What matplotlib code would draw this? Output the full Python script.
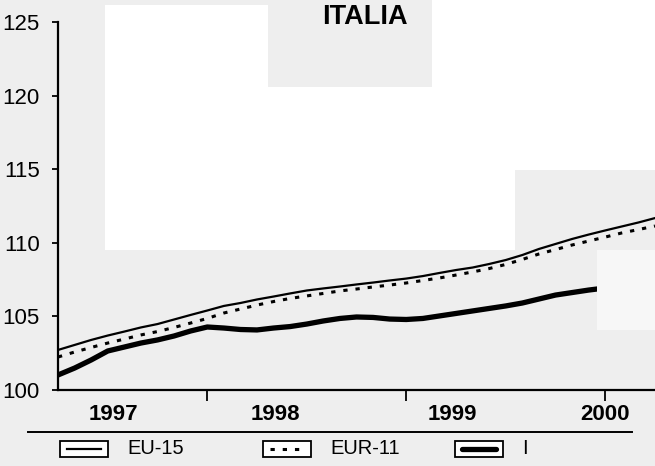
""" Italia price index vs EU-15 and EUR-11, 1997-2000 """
import matplotlib.pyplot as plt
from matplotlib.patches import Rectangle
from matplotlib.lines import Line2D

plt.rcParams['font.family'] = ['Liberation Sans', 'DejaVu Sans']

W, H = 655, 466

# monthly values, starting April 1997
start_year, start_month = 1997, 4
eu15 = [102.72, 103.06, 103.40, 103.70, 103.97, 104.25, 104.48, 104.79, 105.10,
        105.40, 105.71, 105.91, 106.15, 106.35, 106.56, 106.76, 106.90, 107.03,
        107.17, 107.30, 107.44, 107.57, 107.74, 107.95, 108.15, 108.32, 108.56,
        108.83, 109.17, 109.58, 109.92, 110.26, 110.56, 110.84, 111.11, 111.38,
        111.68]
eur11 = [102.24, 102.58, 102.89, 103.19, 103.46, 103.74, 103.97, 104.25, 104.55,
         104.86, 105.23, 105.50, 105.77, 106.01, 106.22, 106.39, 106.56, 106.73,
         106.86, 107.00, 107.13, 107.27, 107.44, 107.61, 107.81, 108.02, 108.25,
         108.53, 108.87, 109.24, 109.54, 109.85, 110.12, 110.39, 110.67, 110.90,
         111.14]
italia = [101.02, 101.49, 102.04, 102.65, 102.92, 103.19, 103.40, 103.67, 104.01,
          104.28, 104.21, 104.11, 104.08, 104.21, 104.31, 104.48, 104.69, 104.86,
          104.96, 104.93, 104.82, 104.79, 104.86, 105.03, 105.20, 105.37, 105.54,
          105.71, 105.91, 106.18, 106.45, 106.62, 106.79, 106.93]

series_names = ['EU-15', 'EUR-11', 'I']
year_labels = ['1997', '1998', '1999', '2000']
year_label_pos = [1997.53, 1998.34, 1999.23, 2000.0]
year_ticks = [1998, 1999, 2000]
y_ticks = [100, 105, 110, 115, 120, 125]

STYLES = [
    dict(color='black', lw=1.6, ls='-'),
    dict(color='black', lw=2.2, ls=(0, (1.4, 2.6))),
    dict(color='black', lw=3.8, ls='-', solid_capstyle='round'),
]


def months(n):
    return [start_year + (start_month - 1 + k) / 12 for k in range(n)]


def fig_rect(fig, x0, y0, x1, y1, **kw):
    """ Rectangle given in pixel coords (top-left origin) """
    fig.patches.append(Rectangle((x0 / W, 1 - y1 / H), (x1 - x0) / W, (y1 - y0) / H,
                                 transform=fig.transFigure, figure=fig, **kw))


fig = plt.figure(figsize=(W / 100, H / 100), dpi=100, facecolor='#eeeeee')

# scan background patches
for x0, y0, x1, y1 in [(105, 5, 268, 250), (268, 87, 432, 250),
                       (432, 0, 655, 170), (432, 170, 515, 250)]:
    fig_rect(fig, x0, y0, x1, y1, facecolor='white', edgecolor='none', zorder=0)
fig_rect(fig, 597, 250, 655, 330, facecolor='#f7f7f7', edgecolor='none', zorder=0)

ax = fig.add_axes([58 / W, 1 - 390 / H, 1 - 58 / W, (390 - 22) / H])
ax.set_facecolor('none')

for values, style in zip([eu15, eur11, italia], STYLES):
    ax.plot(months(len(values)), values, **style)

ax.set_xlim(1997.25, 2000.25)
ax.set_ylim(100, 125)
ax.set_yticks(y_ticks)
ax.xaxis.remove_overlapping_locs = False
ax.set_xticks(year_ticks, [''] * len(year_ticks))
ax.set_xticks(year_label_pos, year_labels, minor=True)

for s in ['top', 'right']:
    ax.spines[s].set_visible(False)
for s in ['left', 'bottom']:
    ax.spines[s].set_linewidth(1.6)

ax.tick_params(axis='y', length=4, width=1.3, pad=9, labelsize=16)
ax.tick_params(axis='x', which='major', length=8, width=1.3, direction='out')
ax.tick_params(axis='x', which='minor', length=0, pad=10, labelsize=16)
for lbl in ax.get_xticklabels(minor=True):
    lbl.set_fontweight('bold')

fig.text(365 / W, 1 - 17 / H, 'ITALIA', ha='center', va='center',
         fontsize=19.5, fontweight='bold')

# legend strip
fig.add_artist(Line2D([28 / W, 632 / W], [1 - 432 / H] * 2, transform=fig.transFigure,
                      color='black', lw=1.4))
box_x = [60, 263, 455]
for name, style, bx in zip(series_names, STYLES, box_x):
    fig_rect(fig, bx, 441, bx + 48, 457, facecolor='white', edgecolor='black', lw=1.3, zorder=2)
    fig.add_artist(Line2D([(bx + 7) / W, (bx + 41) / W], [1 - 449 / H] * 2,
                          transform=fig.transFigure, zorder=3, **style))
    fig.text((bx + 67) / W, 1 - 449 / H, name, ha='left', va='center', fontsize=14.5)

fig.savefig('out.png', dpi=100, facecolor=fig.get_facecolor())
